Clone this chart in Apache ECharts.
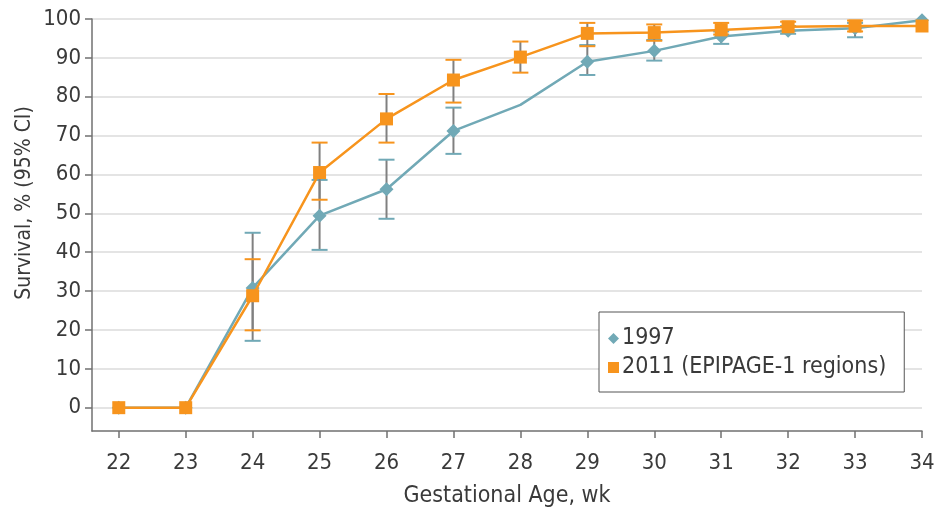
<!DOCTYPE html>
<html><head><meta charset="utf-8">
<script src="https://cdn.jsdelivr.net/npm/echarts@6/dist/echarts.min.js"></script>
<style>html,body{margin:0;padding:0;background:#fff}#c{width:938px;height:508px}</style>
</head><body><div id="c"></div>
<script>
var weeks = [22,23,24,25,26,27,28,29,30,31,32,33,34];
var tickValuesX = [22,23,24,25,26,27,28,29,30,31,32,33,34];
var tickValuesY = [0,10,20,30,40,50,60,70,80,90,100];
var s1997 = [0,0,30.8,49.4,56.2,71.2,77.9,89.0,91.8,95.5,97.0,97.6,99.7];
var s1997Low  = [null,null,17.2,40.6,48.6,65.3,null,85.6,89.3,93.6,96.2,95.3,null];
var s1997High = [null,null,45.0,58.6,63.8,77.2,null,93.3,94.6,96.8,98.2,99.0,null];
var s1997Marker = [true,true,true,true,true,true,false,true,true,true,true,true,true];
var s2011 = [0,0,28.8,60.5,74.3,84.3,90.2,96.3,96.5,97.2,98.0,98.2,98.2];
var s2011Low  = [null,null,19.9,53.5,68.2,78.5,86.2,93.0,94.4,96.0,97.0,96.8,null];
var s2011High = [null,null,38.2,68.2,80.7,89.5,94.2,99.0,98.6,99.0,99.3,99.6,null];

var teal = '#71a9b6', orange = '#f7941d', barGray = '#808080';
var font = '"DejaVu Sans Condensed", "DejaVu Sans", sans-serif';
var txt = '#3a3a3a';

function lineData(vals, markers){
  return weeks.map(function(w,i){
    var d = {value:[w, vals[i]]};
    if (markers && !markers[i]) d.symbol = 'none';
    return d;
  });
}
function errData(lo, hi){
  var out = [];
  weeks.forEach(function(w,i){ if (lo[i]!=null) out.push([w, lo[i], hi[i]]); });
  return out;
}
function errSeries(name, lo, hi, capColor){
  return {
    type:'custom', name:name, data: errData(lo,hi), z:1, silent:true,
    renderItem: function(params, api){
      var x = api.value(0);
      var a = api.coord([x, api.value(1)]);
      var b = api.coord([x, api.value(2)]);
      var hw = 8;
      return {type:'group', children:[
        {type:'line', shape:{x1:a[0],y1:a[1],x2:b[0],y2:b[1]}, style:{stroke:barGray, lineWidth:2}},
        {type:'line', shape:{x1:a[0]-hw,y1:a[1],x2:a[0]+hw,y2:a[1]}, style:{stroke:capColor, lineWidth:2}},
        {type:'line', shape:{x1:b[0]-hw,y1:b[1],x2:b[0]+hw,y2:b[1]}, style:{stroke:capColor, lineWidth:2}}
      ]};
    }
  };
}

var chart = echarts.init(document.getElementById('c'), null, {renderer:'canvas'});
chart.setOption({
  animation:false,
  textStyle:{fontFamily:font},
  grid:{left:92, right:16, top:19, bottom:77, containLabel:false, outerBoundsMode:'none'},
  graphic:[{
    type:'text', x:25, y:203, rotation:Math.PI/2,
    style:{text:'Survival, % (95% CI)', font:'21px ' + font, fill:txt, align:'center', verticalAlign:'middle'}
  }],
  xAxis:{
    type:'value', min:21.6, max:34,
    name:'Gestational Age, wk', nameLocation:'middle', nameGap:54,
    nameTextStyle:{fontSize:23, color:txt, fontFamily:font},
    axisLine:{show:true, onZero:false, lineStyle:{color:'#707070', width:1.5}},
    axisTick:{show:true, length:7, lineStyle:{color:'#707070', width:1.5}, customValues:tickValuesX},
    axisLabel:{fontSize:22, color:txt, margin:21, fontFamily:font, customValues:tickValuesX},
    splitLine:{show:false}
  },
  yAxis:{
    type:'value', min:-6, max:100,
    axisLine:{show:true, onZero:false, lineStyle:{color:'#707070', width:1.5}},
    axisTick:{show:true, length:7, lineStyle:{color:'#707070', width:1.5}, customValues:tickValuesY},
    axisLabel:{fontSize:22, color:txt, margin:11, fontFamily:font, customValues:tickValuesY},
    splitLine:{show:true, lineStyle:{color:'#e4e4e4', width:2}}
  },
  legend:{
    orient:'vertical', left:599, top:312,
    padding:[15,18,13,9], itemGap:6,
    borderColor:'#555', borderWidth:1, backgroundColor:'#fff',
    itemWidth:11, itemHeight:11,
    textStyle:{fontSize:23, color:txt, fontFamily:font, padding:[0,0,0,-2]},
    data:[{name:'1997', icon:'diamond', itemStyle:{color:teal}}, {name:'2011 (EPIPAGE-1 regions)', icon:'rect', itemStyle:{color:orange}}]
  },
  series:[
    errSeries('1997', s1997Low, s1997High, teal),
    errSeries('2011 (EPIPAGE-1 regions)', s2011Low, s2011High, orange),
    {type:'line', name:'1997', data:lineData(s1997, s1997Marker), symbol:'diamond', symbolSize:14,
     lineStyle:{color:teal, width:2.5}, itemStyle:{color:teal}, z:3},
    {type:'line', name:'2011 (EPIPAGE-1 regions)', data:lineData(s2011), symbol:'rect', symbolSize:13,
     lineStyle:{color:orange, width:2.5}, itemStyle:{color:orange}, z:4}
  ]
});
</script></body></html>
